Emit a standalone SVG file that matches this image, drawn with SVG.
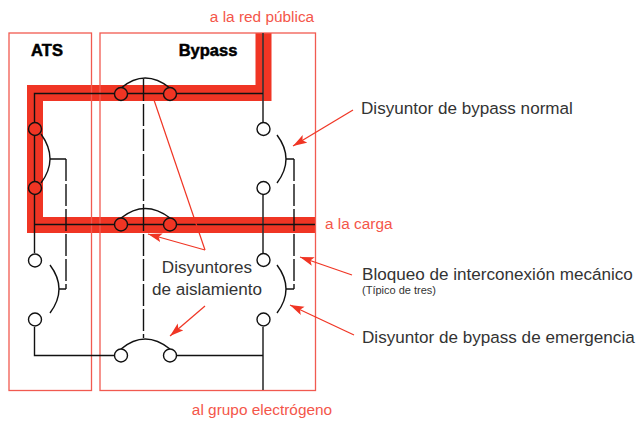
<svg xmlns="http://www.w3.org/2000/svg" width="636" height="421" viewBox="0 0 636 421">
<style>
.box{fill:none;stroke:#f15a50;stroke-width:1.3}
.band{fill:none;stroke:#f03524;stroke-width:16}
.w{fill:none;stroke:#111;stroke-width:1.4}
.g{fill:none;stroke:#333;stroke-width:1.6}
.d{fill:none;stroke:#111;stroke-width:1.4;stroke-dasharray:22 3}
.c{fill:#fff;stroke:#111;stroke-width:1.4}
.cr{fill:#f03524;stroke:#111;stroke-width:1.4}
.a{fill:none;stroke:#f03524;stroke-width:1.2}
.ah{fill:#f03524}
text{font-family:"Liberation Sans",Arial,sans-serif}
.red{fill:#f4564a;font-size:15.400px}
.lab{fill:#333;font-size:17.100px}
.t{fill:#000;stroke:#000;stroke-width:.5;font-size:16.500px;font-weight:bold}
</style>
<defs>
<marker id="ar" markerWidth="16" markerHeight="10" refX="14" refY="4.500" orient="auto" markerUnits="userSpaceOnUse"><path class="ah" d="M0,0L14,4.500L0,9L3,4.500z"/></marker>
</defs>
<g id="bands">
<path class="band" d="M263.500,33V93H35V225H315.500"/>
</g>
<g id="boxes">
<rect id="ats" class="box" x="9" y="33" width="82.500" height="357.500"/>
<rect id="bypass" class="box" x="100" y="33" width="215.500" height="357.500"/>
</g>
<g id="connectors">
<path class="g" d="M263,33V122M263,195V253M263,327V390"/>
<path class="w" d="M263,93.500H34.500V122M34.500,135V182M34.500,195V253M34.500,327V355.500H114.500M177,355.500H263M34.500,224.500H315"/>
<path class="d" d="M143.500,79V209M143.500,209V338"/>
<path class="w" d="M50,159H66M59,289H66M286,159H294M286,289H294"/>
<path class="d" d="M66,159V289M294,159V289"/>
<path class="a" marker-end="url(#ar)" d="M353,110L293,146"/>
<path class="a" marker-end="url(#ar)" d="M352,275L300,257"/>
<path class="a" marker-end="url(#ar)" d="M354,335L290,305"/>
<path class="a" d="M154,100L205,250"/>
<path class="a" marker-end="url(#ar)" d="M205,250L148,234"/>
<path class="a" marker-end="url(#ar)" d="M205,306L170,336"/>
</g>
<g id="breaker-top"><path class="w" d="M121,88Q145,68 170,88"/><circle class="cr" cx="121" cy="94" r="6.500"/><circle class="cr" cx="170" cy="94" r="6.500"/></g>
<g id="breaker-mid"><path class="w" d="M121,218Q145,199 170,218"/><circle class="cr" cx="121" cy="224.500" r="6.500"/><circle class="cr" cx="170" cy="224.500" r="6.500"/></g>
<g id="breaker-bot"><path class="w" d="M121,349Q145,329 170,349"/><circle class="c" cx="121" cy="355.500" r="6.500"/><circle class="c" cx="170" cy="355.500" r="6.500"/></g>
<g id="ats-upper"><path class="w" d="M41,134Q59,159 41,183"/><circle class="cr" cx="35" cy="129" r="6.500"/><circle class="cr" cx="35" cy="188" r="6.500"/></g>
<g id="ats-lower"><path class="w" d="M50,265Q68,289 50,313"/><circle class="c" cx="35" cy="260.500" r="6.500"/><circle class="c" cx="35" cy="319.500" r="6.500"/></g>
<g id="bypass-normal"><path class="w" d="M277,135Q295,159 277,183"/><circle class="c" cx="263.500" cy="129" r="6.500"/><circle class="c" cx="263.500" cy="188" r="6.500"/></g>
<g id="bypass-emergency"><path class="w" d="M277,265Q295,289 277,313"/><circle class="c" cx="263.500" cy="260" r="6.500"/><circle class="c" cx="263.500" cy="319.500" r="6.500"/></g>
<g id="labels">
<text class="t" x="47" y="56" text-anchor="middle">ATS</text>
<text class="t" x="208" y="56" text-anchor="middle">Bypass</text>
<text class="red" x="262" y="22" text-anchor="middle">a la red pública</text>
<text class="red" x="325" y="229">a la carga</text>
<text class="red" x="262" y="415" text-anchor="middle">al grupo electrógeno</text>
<text class="lab" x="207" y="273" text-anchor="middle">Disyuntores</text>
<text class="lab" x="207" y="295" text-anchor="middle">de aislamiento</text>
<text class="lab" x="361" y="114">Disyuntor de bypass normal</text>
<text class="lab" x="362" y="280">Bloqueo de interconexión mecánico</text>
<text x="362" y="294" fill="#333" font-size="11">(Típico de tres)</text>
<text class="lab" x="362" y="343">Disyuntor de bypass de emergencia</text>
</g>
</svg>
